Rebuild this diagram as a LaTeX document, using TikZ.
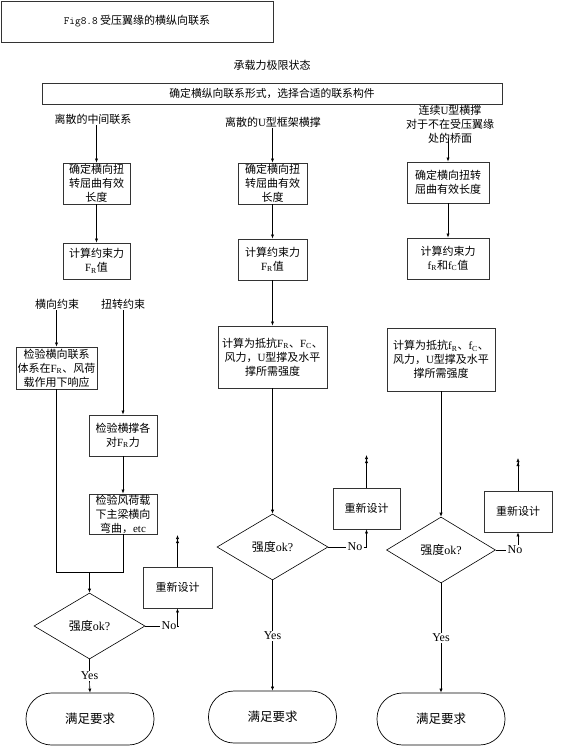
\documentclass[tikz,border=0pt]{standalone}
\usepackage{fontspec}
\setmainfont{Noto Sans CJK SC}
\newfontfamily\lat{Liberation Serif}
\usetikzlibrary{shapes.geometric,arrows.meta}
\newcommand\myFR{{\lat F\textsubscript{R}}}
\newcommand\myFC{{\lat F\textsubscript{C}}}
\newcommand\myfR{{\lat f\textsubscript{R}}}
\newcommand\myfC{{\lat f\textsubscript{C}}}
\begin{document}
\begin{tikzpicture}[x=1pt,y=-1pt,
  txt/.style={font=\fontsize{11}{14}\selectfont, align=center, inner sep=1pt},
  ltxt/.style={font=\fontsize{12}{14}\selectfont\lat, inner sep=1pt},
  box/.style={draw=black!80, line width=0.9pt, inner sep=0pt, align=center,
    font=\fontsize{11}{14}\selectfont},
  dia/.style={draw=black, line width=0.6pt, shape=diamond, inner sep=0pt,
    aspect=1.68, font=\fontsize{12}{14}\selectfont},
  term/.style={draw=black, line width=0.7pt, rounded corners=25.5pt, inner sep=0pt,
    minimum width=128pt, minimum height=52pt, font=\fontsize{12.5}{14}\selectfont},
  conn/.style={draw=black, line width=0.6pt},
  arr/.style={conn, -{Latex[length=4pt,width=3.2pt]}},
  arrtwo/.style={conn, -{Latex[length=4pt,width=3.2pt]Latex[length=4pt,width=3.2pt]}}
]
\useasboundingbox (0,0) rectangle (568,748);
\fill[white] (0,0) rectangle (568,748);

% header
\node[box, minimum width=272pt, minimum height=41pt] (title) at (137,21.5)
  {{\ttfamily\fontsize{11}{12}\selectfont Fig8.8} 受压翼缘的横纵向联系};
\node[txt] (state) at (272,65) {承载力极限状态};
\node[box, minimum width=460pt, minimum height=21pt,
  font=\fontsize{10.8}{14}\selectfont] (form) at (272,93.5)
  {确定横纵向联系形式，选择合适的联系构件};
\node[txt] (lab1) at (93,119) {离散的中间联系};
\node[txt] (lab2) at (273,122) {离散的{\lat U}型框架横撑};
\node[txt] (lab3) at (450,124) {连续{\lat U}型横撑\\对于不在受压翼缘\\处的桥面};

% left column
\node[box, minimum width=67pt, minimum height=41pt] (l1) at (96.5,183.5) {确定横向扭\\转屈曲有效\\长度};
\node[box, minimum width=67pt, minimum height=36pt] (l2) at (96.5,261) {计算约束力\\\myFR 值};
\node[txt] (lh) at (57,304) {横向约束};
\node[txt] (lt) at (123,304) {扭转约束};
\node[box, minimum width=81pt, minimum height=42pt] (l3) at (56.5,368) {检验横向联系\\体系在\myFR、风荷\\载作用下响应};
\node[box, minimum width=68pt, minimum height=41pt] (l4) at (123,435.5) {检验横撑各\\对\myFR 力};
\node[box, minimum width=68pt, minimum height=40pt] (l5) at (123,514) {检验风荷载\\下主梁横向\\弯曲，{\lat etc}};
\coordinate (lj) at (89.5,572);
\node[dia, minimum width=111pt, minimum height=66pt] (ld) at (89.5,626) {强度{\lat ok?}};
\node[ltxt] (lno) at (169,626) {No};
\node[box, minimum width=69pt, minimum height=41pt] (lr) at (177.5,587.5) {重新设计};
\coordinate (lup) at (177.5,535);
\node[ltxt] (ly) at (89.5,676) {Yes};
\node[term] (lterm) at (90,719) {满足要求};

% middle column
\node[box, minimum width=69pt, minimum height=41pt] (m1) at (272.5,183.5) {确定横向扭\\转屈曲有效\\长度};
\node[box, minimum width=69pt, minimum height=41pt] (m2) at (272.5,259.5) {计算约束力\\\myFR 值};
\node[box, minimum width=109pt, minimum height=62pt] (m3) at (272.5,357) {计算为抵抗\myFR、\myFC、\\风力，{\lat U}型撑及水平\\撑所需强度};
\node[dia, minimum width=111pt, minimum height=66pt] (md) at (272.5,547) {强度{\lat ok?}};
\node[ltxt] (mno) at (355,547) {No};
\node[box, minimum width=67pt, minimum height=41pt] (mr) at (366.5,508.5) {重新设计};
\coordinate (mup) at (366.5,455);
\node[ltxt] (my) at (272.5,636) {Yes};
\node[term] (mterm) at (272.5,717) {满足要求};

% right column
\node[box, minimum width=82pt, minimum height=41pt] (r1) at (448,182.5) {确定横向扭转\\屈曲有效长度};
\node[box, minimum width=82pt, minimum height=41pt] (r2) at (448,258.5) {计算约束力\\\myfR 和\myfC 值};
\node[box, minimum width=108pt, minimum height=63pt] (r3) at (441,359.5) {计算为抵抗\myfR、\myfC、\\风力，{\lat U}型撑及水平\\撑所需强度};
\node[dia, minimum width=109pt, minimum height=66pt] (rd) at (441,550) {强度{\lat ok?}};
\node[ltxt] (rno) at (515,550) {No};
\node[box, minimum width=68pt, minimum height=41pt] (rr) at (518,511.5) {重新设计};
\coordinate (rup) at (518,458);
\node[ltxt] (ry) at (441,638) {Yes};
\node[term] (rterm) at (441,719) {满足要求};

% connectors left
\draw[arr] (lab1.south -| l1.north) -- (l1.north);
\draw[arr] (l1.south) -- (l2.north);
\draw[arr] (lh.south -| l3.north) -- (l3.north);
\draw[arr] (lt.south -| l4.north) -- (l4.north);
\draw[arr] (l4.south) -- (l5.north);
\draw[conn] (l3.south) -- (l3.south |- lj) -- (l5.south |- lj) -- (l5.south);
\draw[arr] (lj) -- (ld.north);
\draw[conn] (ld.east) -- (lno.west);
\draw[arr] (lno.east) -| (lr.south);
\draw[arrtwo] (lr.north) -- (lup);
\draw[conn] (ld.south) -- (ly.north);
\draw[arr] (ly.south) -- (lterm.north);

% connectors middle
\draw[arr] (lab2.south -| m1.north) -- (m1.north);
\draw[arr] (m1.south) -- (m2.north);
\draw[arr] (m2.south) -- (m3.north);
\draw[arr] (m3.south) -- (md.north);
\draw[conn] (md.east) -- (mno.west);
\draw[arr] (mno.east) -| (mr.south);
\draw[arrtwo] (mr.north) -- (mup);
\draw[conn] (md.south) -- (my.north);
\draw[arr] (my.south) -- (mterm.north);

% connectors right
\draw[arr] (lab3.south -| r1.north) ++(0,-6) -- (r1.north);
\draw[arr] (r1.south) -- (r2.north);
\draw[arr] (r3.south) -- (rd.north);
\draw[conn] (rd.east) -- (rno.west);
\draw[arr] (rno.north -| rr.south) -- (rr.south);
\draw[arrtwo] (rr.north) -- (rup);
\draw[conn] (rd.south) -- (ry.north);
\draw[arr] (ry.south) -- (rterm.north);
\end{tikzpicture}
\end{document}
